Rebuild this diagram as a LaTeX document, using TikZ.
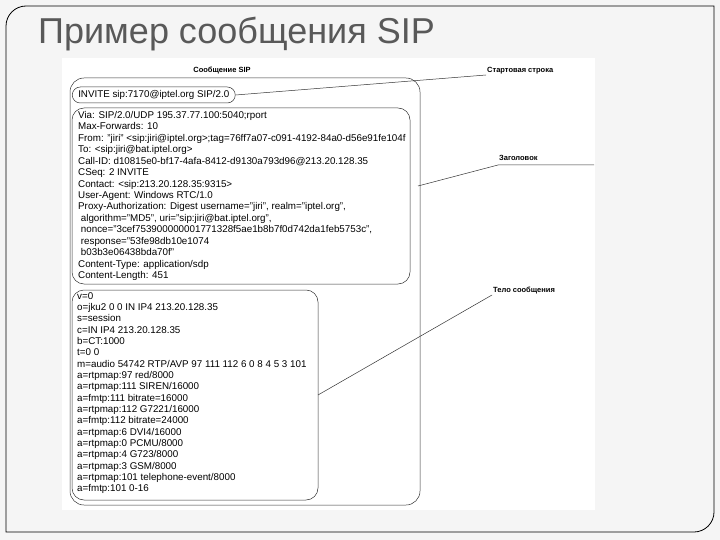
\documentclass[tikz,border=0pt]{standalone}
\usepackage{fontspec}
\setmainfont{Liberation Sans}
\begin{document}
\begin{tikzpicture}[x=1pt,y=-1pt,
  box/.style={draw=black!80,line width=0.5pt,rounded corners=12pt},
  lead/.style={draw=black!80,line width=0.5pt},
  lbl/.style={font=\fontsize{7.5}{9}\selectfont\bfseries,inner sep=1pt},
  txt/.style={font=\fontsize{9.8}{11.45}\selectfont,align=left,anchor=north west,inner sep=0pt}]
\useasboundingbox (0,0) rectangle (720,540);
\fill[black!4] (0,0) rectangle (720,540);
\draw[line width=0.8pt] (6,26) .. controls (6,15) and (15,6) .. (26,6) -- (714,6) -- (714,512) .. controls (714,523) and (705,532) .. (694,532) -- (6,532) -- cycle;
\fill[white] (62,58) rectangle (595,510);
\node[anchor=west,text=black!65,font=\fontsize{36}{40}\selectfont,inner sep=0pt] (title) at (38,34) {Пример сообщения SIP};
\node[lbl] (cap) at (222,70) {Сообщение SIP};
\draw[box,rounded corners=14pt] (70,78) rectangle (420,505);
\node[box,rounded corners=8pt,minimum height=16pt,font=\fontsize{9.8}{11}\selectfont,inner xsep=6pt,anchor=west] (start) at (72,95) {INVITE sip:7170@iptel.org SIP/2.0};
\draw[box] (72,108) rectangle (410,284);
\node[txt] (htxt) at (78,111) {Via: SIP/2.0/UDP 195.37.77.100:5040;rport\\
Max-Forwards: 10\\
From: "jiri" <sip:jiri@iptel.org>;tag=76ff7a07-c091-4192-84a0-d56e91fe104f\\
To: <sip:jiri@bat.iptel.org>\\
Call-ID: d10815e0-bf17-4afa-8412-d9130a793d96@213.20.128.35\\
CSeq: 2 INVITE\\
Contact: <sip:213.20.128.35:9315>\\
User-Agent: Windows RTC/1.0\\
Proxy-Authorization: Digest username="jiri", realm="iptel.org",\\
\ algorithm="MD5", uri="sip:jiri@bat.iptel.org",\\
\ nonce="3cef753900000001771328f5ae1b8b7f0d742da1feb5753c",\\
\ response="53fe98db10e1074\\
\ b03b3e06438bda70f"\\
Content-Type: application/sdp\\
Content-Length: 451};
\draw[box] (72,290) rectangle (318,500);
\coordinate (bdy) at (318,395);
\coordinate (hdr) at (418,186);
\node[txt,font=\fontsize{9.8}{11.35}\selectfont] (btxt) at (77,292) {v=0\\
o=jku2 0 0 IN IP4 213.20.128.35\\
s=session\\
c=IN IP4 213.20.128.35\\
b=CT:1000\\
t=0 0\\
m=audio 54742 RTP/AVP 97 111 112 6 0 8 4 5 3 101\\
a=rtpmap:97 red/8000\\
a=rtpmap:111 SIREN/16000\\
a=fmtp:111 bitrate=16000\\
a=rtpmap:112 G7221/16000\\
a=fmtp:112 bitrate=24000\\
a=rtpmap:6 DVI4/16000\\
a=rtpmap:0 PCMU/8000\\
a=rtpmap:4 G723/8000\\
a=rtpmap:3 GSM/8000\\
a=rtpmap:101 telephone-event/8000\\
a=fmtp:101 0-16};
\node[lbl,anchor=south west] (l1) at (486,75) {Стартовая строка};
\node[lbl,anchor=south west] (l2) at (498,162) {Заголовок};
\node[lbl,anchor=south west] (l3) at (492,295) {Тело сообщения};
\coordinate (e2) at (594,165);
\draw[lead] (start.east) -- (l1.south west);
\draw[lead] (hdr) -- (l2.south west |- e2) -- (e2);
\draw[lead] (bdy) -- (l3.south west);
\end{tikzpicture}
\end{document}
